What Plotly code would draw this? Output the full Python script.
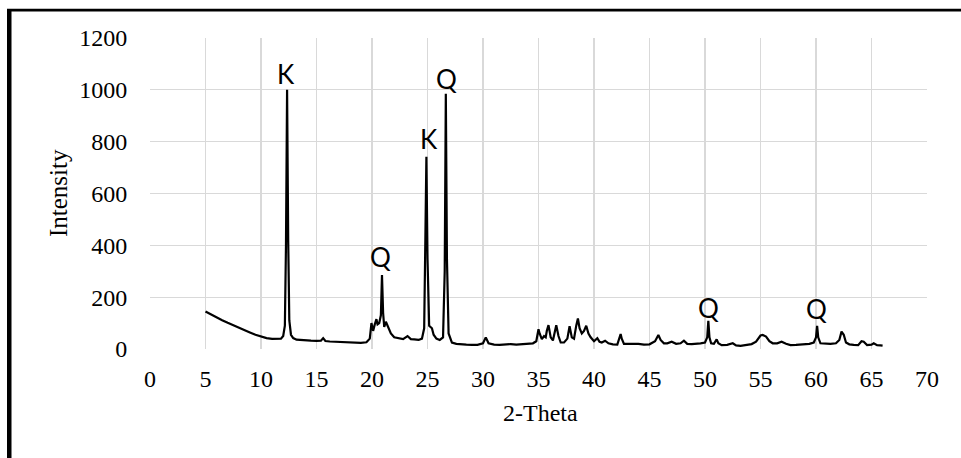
import plotly.graph_objects as go

# ---- data ----
two_theta = [
    5.0, 5.5, 6.0, 6.5, 7.0, 7.5, 8.0, 8.5, 9.0, 9.5, 10.0, 10.5, 11.0, 11.5, 11.8,
    12.0, 12.15, 12.25, 12.35, 12.45, 12.55, 12.7, 12.9, 13.2, 13.6, 14.0, 14.5, 15.0,
    15.4, 15.6, 15.8, 16.2, 17.0, 17.5, 18.0, 18.5, 19.0, 19.5, 19.8, 19.95, 20.1, 20.25,
    20.4, 20.5, 20.65, 20.8, 20.9, 21.0, 21.1, 21.25, 21.4, 21.55, 21.7, 22.0, 22.4, 22.8,
    23.2, 23.5, 23.8, 24.2, 24.5, 24.7, 24.8, 24.9, 25.0, 25.15, 25.4, 25.55, 25.8, 26.1,
    26.4, 26.55, 26.65, 26.75, 26.9, 27.2, 27.6, 28.0, 28.5, 29.0, 29.5, 30.0, 30.25, 30.5,
    31.0, 31.5, 32.0, 32.5, 33.0, 33.5, 34.0, 34.5, 34.8, 35.0, 35.1, 35.3, 35.5, 35.65,
    35.75, 35.9, 36.1, 36.3, 36.6, 36.8, 37.0, 37.3, 37.6, 37.8, 38.0, 38.2, 38.4, 38.55,
    38.7, 38.9, 39.1, 39.3, 39.5, 39.7, 40.0, 40.3, 40.5, 40.7, 41.0, 41.3, 41.7, 42.1,
    42.4, 42.5, 42.7, 43.0, 43.5, 44.0, 44.5, 45.0, 45.5, 45.8, 46.0, 46.3, 46.6, 47.0,
    47.4, 47.8, 48.1, 48.4, 48.8, 49.2, 49.6, 50.0, 50.2, 50.3, 50.4, 50.55, 50.8, 51.05,
    51.2, 51.5, 52.0, 52.5, 52.8, 53.2, 53.7, 54.2, 54.6, 55.0, 55.2, 55.5, 55.8, 56.1,
    56.5, 56.9, 57.3, 57.7, 58.2, 58.8, 59.4, 59.8, 60.0, 60.1, 60.2, 60.4, 60.8, 61.3,
    61.8, 62.1, 62.3, 62.5, 62.7, 63.0, 63.4, 63.8, 64.1, 64.3, 64.6, 65.0, 65.2, 65.5,
    65.8, 66.0,
]
intensity = [
    145, 133, 122, 111, 101, 91, 82, 73, 64, 55, 48, 42, 39, 38, 40,
    50, 90, 400, 1000, 420, 110, 55, 42, 36, 34, 33, 32, 31,
    32, 42, 31, 29, 27, 26, 25, 24, 24, 26, 40, 100, 70, 95,
    115, 95, 100, 130, 285, 140, 85, 105, 90, 70, 60, 45, 40, 38,
    50, 38, 37, 35, 40, 80, 400, 742, 350, 90, 80, 55, 40, 35,
    45, 300, 985, 350, 60, 25, 20, 18, 17, 16, 16, 22, 45, 22,
    17, 16, 18, 19, 17, 18, 19, 22, 30, 76, 60, 38, 50, 45,
    70, 92, 45, 33, 92, 50, 25, 25, 40, 88, 45, 40, 90, 118,
    80, 60, 70, 90, 60, 45, 30, 42, 28, 25, 32, 22, 18, 17,
    58, 40, 20, 20, 19, 20, 17, 18, 30, 54, 35, 22, 22, 28,
    20, 22, 32, 20, 19, 20, 22, 25, 45, 109, 45, 22, 20, 37,
    22, 15, 16, 22, 14, 12, 16, 19, 28, 52, 54, 48, 30, 22,
    22, 28, 20, 15, 16, 18, 20, 25, 45, 89, 45, 22, 20, 20,
    22, 35, 67, 55, 25, 18, 16, 15, 30, 28, 15, 17, 22, 15,
    14, 13,
]
assert len(two_theta) == len(intensity)

peak_labels = ["K", "Q", "K", "Q", "Q", "Q"]
peak_label_x = [12.25, 20.8, 25.15, 26.67, 50.3, 60.0]
peak_label_y = [1060, 355, 810, 1043, 157, 155]

x_ticks = list(range(0, 75, 5))
y_ticks = list(range(0, 1400, 200))

# ---- geometry ----
W, H = 961, 458
L, R, T, B = 150, 34, 38, 109
pw, ph = W - L - R, H - T - B


def px(xp):
    return (xp - L) / pw


def py(yp):
    return (H - B - yp) / ph


fig = go.Figure()
fig.add_trace(go.Scatter(
    x=two_theta, y=intensity, mode="lines",
    line=dict(color="black", width=2.2), hoverinfo="skip", showlegend=False,
))

serif = "Liberation Serif, Times New Roman, serif"
for t, xv, yv in zip(peak_labels, peak_label_x, peak_label_y):
    fig.add_annotation(x=xv, y=yv, text=t, showarrow=False, xanchor="center",
                       yanchor="middle", font=dict(family="Lato, Open Sans, sans-serif",
                                                   size=26, color="black"))

fig.add_annotation(xref="paper", yref="paper", x=px(540), y=py(413), text="2-Theta",
                   showarrow=False, xanchor="center", yanchor="middle",
                   font=dict(family=serif, size=24, color="black"))
fig.add_annotation(xref="paper", yref="paper", x=px(58), y=py(193), text="Intensity",
                   showarrow=False, xanchor="center", yanchor="middle", textangle=-90,
                   font=dict(family=serif, size=25, color="black"))

# outer frame (left and top black borders)
fig.add_shape(type="rect", xref="paper", yref="paper", x0=px(7), x1=px(11.5),
              y0=py(9), y1=py(470), fillcolor="black", line=dict(width=0), layer="above")
fig.add_shape(type="rect", xref="paper", yref="paper", x0=px(7), x1=px(975),
              y0=py(8.7), y1=py(11.5), fillcolor="black", line=dict(width=0), layer="above")

fig.update_layout(
    width=W, height=H, margin=dict(l=L, r=R, t=T, b=B, autoexpand=False),
    paper_bgcolor="white", plot_bgcolor="white",
    xaxis=dict(range=[0, 70], tickmode="array", tickvals=x_ticks,
               ticktext=[str(v) for v in x_ticks], showgrid=True, gridcolor="#d9d9d9",
               gridwidth=1.3, zeroline=False, showline=False, ticks="outside",
               ticklen=0, ticklabelstandoff=8,
               tickfont=dict(family=serif, size=24, color="black")),
    yaxis=dict(range=[0, 1200], tickmode="array", tickvals=y_ticks,
               ticktext=[str(v) for v in y_ticks], showgrid=True, gridcolor="#d9d9d9",
               gridwidth=1.3, zeroline=False, showline=False, ticks="outside",
               ticklen=0, ticklabelstandoff=17,
               tickfont=dict(family=serif, size=24, color="black")),
)

fig.write_html(
    "out.html",
    config={"displayModeBar": False, "staticPlot": True},
    post_script="document.body.style.margin='0';document.body.style.overflow='hidden';",
)
